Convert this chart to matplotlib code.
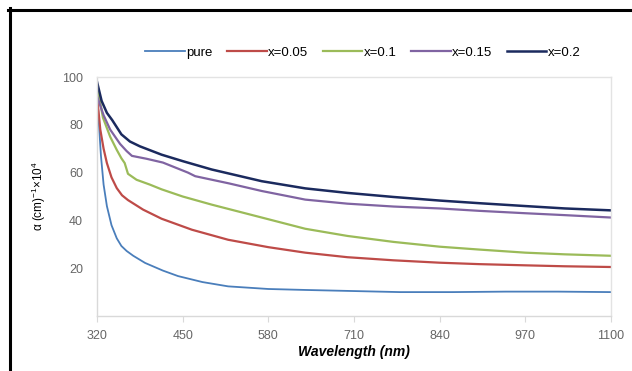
import matplotlib
matplotlib.use("Agg")
import matplotlib.pyplot as plt
from matplotlib.lines import Line2D

plt.rcParams['font.family'] = ['Liberation Sans', 'DejaVu Sans']

series_names = ["pure", "x=0.05", "x=0.1", "x=0.15", "x=0.2"]

wl_pure = [320, 323, 326, 330, 335, 342, 350, 357, 365, 375, 393, 420, 443, 480, 519, 580, 636, 700, 780, 860, 940, 1020, 1100]
val_pure = [95, 80, 67, 55, 46, 38, 32.5, 29.3, 27.2, 25.2, 22.2, 19, 16.7, 14.2, 12.4, 11.3, 10.9, 10.5, 10, 10, 10.2, 10.2, 10]

wl_005 = [320, 325, 330, 335, 342, 350, 358, 367, 390, 418, 464, 519, 580, 636, 700, 770, 840, 900, 970, 1030, 1100]
val_005 = [92, 78, 70, 64, 58, 53.5, 50.5, 48.5, 44.5, 40.7, 36.1, 31.9, 28.8, 26.5, 24.6, 23.3, 22.3, 21.7, 21.2, 20.8, 20.5]

wl_01 = [320, 329, 340, 350, 357, 362, 367, 380, 400, 418, 450, 494, 570, 636, 700, 770, 840, 900, 970, 1030, 1100]
val_01 = [97, 83, 75, 69.5, 66, 64, 59.5, 57, 55, 53, 50, 46.6, 41.2, 36.5, 33.5, 31, 29, 27.8, 26.5, 25.8, 25.2]

wl_015 = [320, 330, 340, 355, 365, 373, 395, 420, 458, 469, 520, 570, 636, 700, 770, 840, 900, 970, 1030, 1100]
val_015 = [92, 84, 78, 72, 69, 67, 65.8, 64.2, 60, 58.5, 55.5, 52.3, 48.7, 47, 45.8, 45, 44, 43, 42.2, 41.2]

wl_02 = [320, 327, 335, 343, 357, 370, 385, 418, 450, 494, 570, 636, 700, 770, 840, 900, 970, 1030, 1100]
val_02 = [98, 90, 85, 82, 76, 73, 71, 67.5, 64.8, 61.3, 56.4, 53.4, 51.5, 49.8, 48.3, 47.2, 46, 45, 44.2]

x_ticks = [320, 450, 580, 710, 840, 970, 1100]
y_ticks = [20, 40, 60, 80, 100]

colors = ["#4A7EBB", "#BE4B48", "#9BBB59", "#8064A2", "#1B2A5E"]
widths = [1.3, 1.6, 1.6, 1.6, 1.8]

fig = plt.figure(figsize=(6.32, 3.71), dpi=100)
fig.patch.set_facecolor("white")

# outer black frame (left and top visible)
fig.add_artist(Line2D([9.5/632, 9.5/632], [0, 1 - 8/371], color="black", lw=2.2, transform=fig.transFigure))
fig.add_artist(Line2D([8/632, 1], [1 - 9.5/371, 1 - 9.5/371], color="black", lw=2.2, transform=fig.transFigure))

ax = fig.add_axes([97/632, 1 - 316/371, (611-97)/632, (316-77)/371])
data = [(wl_pure, val_pure), (wl_005, val_005), (wl_01, val_01), (wl_015, val_015), (wl_02, val_02)]
handles = []
for (w, v), name, c, lw in zip(data, series_names, colors, widths):
    h, = ax.plot(w, v, color=c, lw=lw, label=name, solid_joinstyle='round')
    handles.append(h)

ax.set_xlim(320, 1100)
ax.set_ylim(0, 100)
ax.set_xticks(x_ticks)
ax.set_yticks(y_ticks)
ax.tick_params(axis='x', colors="#666666", labelsize=9, length=4, direction='out', color="#D9D9D9", pad=6)
ax.tick_params(axis='y', colors="#666666", labelsize=9, length=0, pad=10)
for sp in ax.spines.values():
    sp.set_color("#E3E3E3")
    sp.set_linewidth(1.0)
ax.spines['left'].set_color("#D9D9D9")
ax.spines['bottom'].set_color("#D9D9D9")

ax.set_xlabel("Wavelength (nm)", fontsize=10, fontweight='bold', fontstyle='italic', color="black", labelpad=2)
ax.set_ylabel(r"α (cm)$^{\mathregular{-1}}$×10$^{\mathregular{4}}$", fontsize=8.5, color="black", labelpad=10)

fig.legend(handles=handles, labels=series_names, loc='center', bbox_to_anchor=(0.574, 1 - 53/371),
           ncol=5, frameon=False, fontsize=9.5, handlelength=3.0, handletextpad=0.1, columnspacing=1.1)

fig.savefig("out.png", dpi=100, facecolor="white")
